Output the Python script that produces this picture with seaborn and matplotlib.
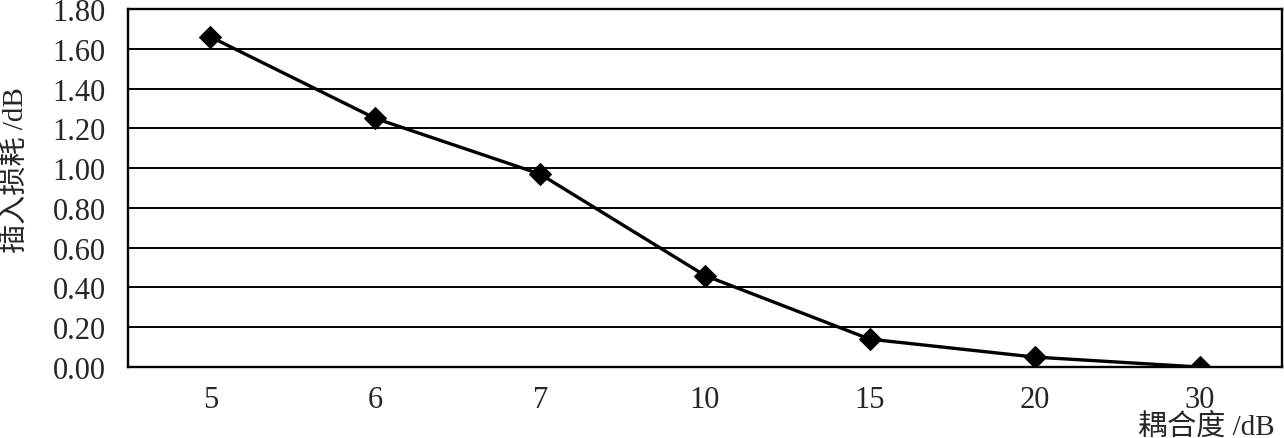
import matplotlib
matplotlib.use('Agg')
import matplotlib.pyplot as plt
import seaborn as sns
import pandas as pd
import numpy as np

# coupling degree (categorical x) and insertion loss values
coupling = ['5', '6', '7', '10', '15', '20', '30']
loss = [1.66, 1.25, 0.97, 0.46, 0.14, 0.05, 0.00]
yticks = [0.0, 0.2, 0.4, 0.6, 0.8, 1.0, 1.2, 1.4, 1.6, 1.8]

df = pd.DataFrame({'coupling': coupling, 'loss': loss})

sns.set_style('white')
plt.rcParams['font.family'] = ['Liberation Serif', 'Noto Sans CJK SC']
plt.rcParams['axes.unicode_minus'] = False

fig = plt.figure(figsize=(12.84, 4.39), dpi=100)
ax = fig.add_axes([0.0997, 0.1617, 0.8987, 0.8155])

sns.lineplot(df, x='coupling', y='loss', ax=ax, color='black', linewidth=2.4,
             marker='D', markersize=11.5, markeredgecolor='black', markerfacecolor='black',
             sort=False)

ax.set_xlim(-0.5, len(coupling) - 0.5)
ax.set_ylim(0, 1.8)
ax.set_yticks(yticks)
ax.set_yticklabels(['%.2f' % v for v in yticks])
for v in yticks[1:]:
    ax.axhline(v, color='black', linewidth=1.4, zorder=0)

# category labels at the centres, tick marks between categories
ax.set_xticks(range(len(coupling)))
ax.set_xticklabels(coupling)
ax.set_xticks(np.arange(0.5, len(coupling) - 1, 1.0), minor=True)
ax.tick_params(axis='x', which='major', length=0, pad=13, labelsize=22)
ax.tick_params(axis='x', which='minor', direction='in', length=7, width=1.5, color='black')
ax.tick_params(axis='y', length=0, pad=16, labelsize=22)

for s in ax.spines.values():
    s.set_color('black')
    s.set_linewidth(1.7)

ax.set_ylabel('插入损耗 /dB', fontsize=21)
ax.yaxis.set_label_coords(-0.097, 0.553)
ax.yaxis.label.set_va('center')
ax.set_xlabel('耦合度 /dB', fontsize=21, loc='right')
ax.xaxis.set_label_coords(0.994, -0.165)
ax.xaxis.label.set_va('center')

fig.savefig('out.png', dpi=100)
